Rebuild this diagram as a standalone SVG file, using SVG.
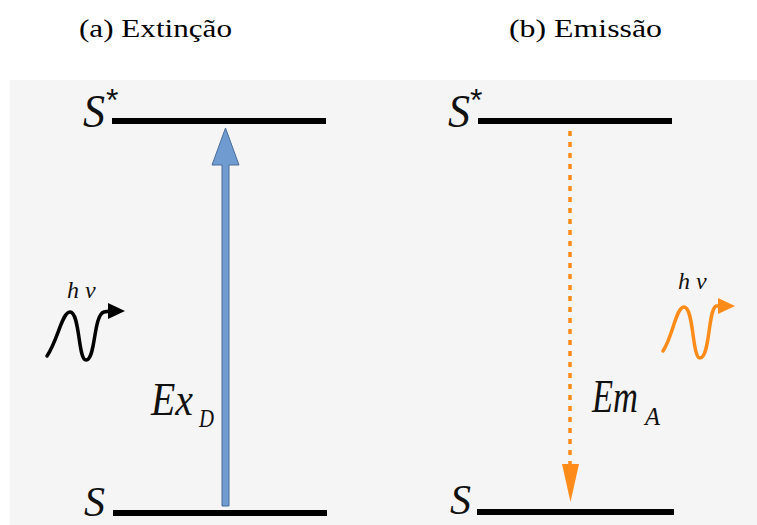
<svg xmlns="http://www.w3.org/2000/svg" width="757" height="525" viewBox="0 0 757 525">
<style>
.title{font-family:"Liberation Serif",serif;font-size:26px;fill:#000}
.sym{font-family:"Liberation Serif",serif;font-style:italic;fill:#111}
.star{font-family:"Liberation Sans",sans-serif;font-size:32px;fill:#111}
.level{stroke:#000;stroke-width:6;fill:none}
</style>
<rect width="757" height="525" fill="#fff"/>
<rect x="10" y="80" width="747" height="445" fill="#f5f5f5"/>
<text class="title" x="79" y="37" textLength="153" lengthAdjust="spacingAndGlyphs">(a) Extinção</text>
<text class="title" x="509" y="37" textLength="153" lengthAdjust="spacingAndGlyphs">(b) Emissão</text>
<g id="left-excited">
<line class="level" x1="112" y1="121" x2="326" y2="121"/>
<text class="sym" x="83" y="127" font-size="46" textLength="22" lengthAdjust="spacingAndGlyphs">S</text>
<text class="star" x="106" y="111">*</text>
</g>
<g id="left-ground">
<line class="level" x1="113" y1="513" x2="327" y2="513"/>
<text class="sym" x="84" y="516" font-size="43" textLength="21" lengthAdjust="spacingAndGlyphs">S</text>
</g>
<g id="right-excited">
<line class="level" x1="478" y1="121" x2="672" y2="121"/>
<text class="sym" x="448" y="127" font-size="46" textLength="22" lengthAdjust="spacingAndGlyphs">S</text>
<text class="star" x="470" y="111">*</text>
</g>
<g id="right-ground">
<line class="level" x1="477" y1="512" x2="674" y2="512"/>
<text class="sym" x="450" y="514" font-size="43" textLength="21" lengthAdjust="spacingAndGlyphs">S</text>
</g>
<g id="photon-left">
<text class="sym" x="67" y="298" font-size="24">h ν</text>
<path d="M47,356 C58,340 62,312 70,312 C80,312 78,360 86,360 C96,360 93,315 104,312 L110,311" fill="none" stroke="#000" stroke-width="3.5" stroke-linecap="round"/>
<polygon points="108,303 125,311 108,319" fill="#000"/>
</g>
<g id="photon-right">
<text class="sym" x="678" y="289" font-size="24">h ν</text>
<path d="M663,351 C673,336 676,307 684,307 C694,307 692,358 700,358 C710,358 708,310 716,306 L720,306" fill="none" stroke="#ff8c1a" stroke-width="3.5" stroke-linecap="round"/>
<polygon points="718,298 735,306 718,314" fill="#ff8c1a"/>
</g>
<g id="connectors">
<g id="excitation">
<polygon points="222,506 229,506 229,165 239,165 225.5,128 212,165 222,165" fill="#6f9bd1" stroke="#4a6d9a" stroke-width="1"/>
</g>
<g id="emission">
<line x1="570" y1="131" x2="570" y2="466" stroke="#ff8c1a" stroke-width="3.5" stroke-dasharray="5,6"/>
<polygon points="562,464 579,464 570.5,502" fill="#ff8c1a"/>
</g>
</g>
<text class="sym" x="151" y="415" font-size="46" textLength="42" lengthAdjust="spacingAndGlyphs">Ex</text>
<text class="sym" x="199" y="427" font-size="25" textLength="15" lengthAdjust="spacingAndGlyphs">D</text>
<text class="sym" x="592" y="412" font-size="46" textLength="46" lengthAdjust="spacingAndGlyphs">Em</text>
<text class="sym" x="645" y="425" font-size="25" textLength="15" lengthAdjust="spacingAndGlyphs">A</text>
</svg>
